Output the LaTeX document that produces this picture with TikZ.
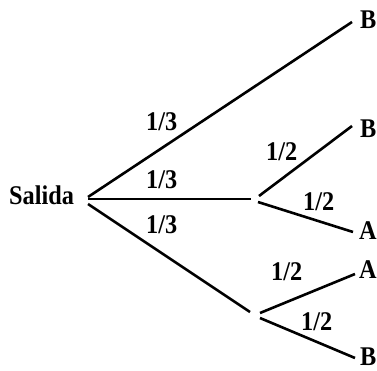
\documentclass[tikz,border=0pt]{standalone}
\usepackage{fontspec}
\setmainfont{Liberation Serif}[BoldFeatures={FakeStretch=0.9}]
\begin{document}
\begin{tikzpicture}[x=1pt,y=-1pt,
  lbl/.style={font=\fontsize{27}{30}\selectfont\bfseries, inner sep=0pt, anchor=base west},
  br/.style={line width=2.6pt}]
\useasboundingbox (0,0) rectangle (377,370);
% labels
\node[lbl] (salida) at (9,204) {Salida};
\node[lbl] (B1) at (360,28) {B};
\node[lbl] (B2) at (360,137) {B};
\node[lbl] (A1) at (359,239) {A};
\node[lbl] (A2) at (359,278) {A};
\node[lbl] (B3) at (360,365) {B};
\node[lbl] (p1) at (146,130) {1/3};
\node[lbl] (p2) at (146,188) {1/3};
\node[lbl] (p3) at (146,233) {1/3};
\node[lbl] (q1) at (266,160) {1/2};
\node[lbl] (q2) at (303,210) {1/2};
\node[lbl] (q3) at (271,280) {1/2};
\node[lbl] (q4) at (301,330) {1/2};
% branch points
\coordinate (r1) at (88,197);
\coordinate (r2) at (88,199);
\coordinate (r3) at (88,204);
\coordinate (m) at (251,199);
\coordinate (mu) at (259,196);
\coordinate (md) at (258,202);
\coordinate (l) at (250,312);
\coordinate (lu) at (260,313);
\coordinate (ld) at (260,318);
\coordinate (e1) at (352,22);
\coordinate (e2) at (352,126);
\coordinate (e3) at (353,232);
\coordinate (e4) at (355,274);
\coordinate (e5) at (355,358);
% connectors
\draw[br] (r1) -- (e1);
\draw[br] (r2) -- (m);
\draw[br] (r3) -- (l);
\draw[br] (mu) -- (e2);
\draw[br] (md) -- (e3);
\draw[br] (lu) -- (e4);
\draw[br] (ld) -- (e5);
\end{tikzpicture}
\end{document}
